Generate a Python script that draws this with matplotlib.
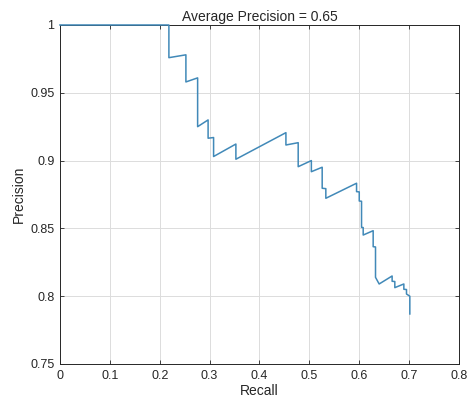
import numpy as np
import matplotlib.pyplot as plt

# precision-recall curve vertices
recall = [0.0, 0.2184, 0.2184, 0.2525, 0.2525, 0.276, 0.276, 0.297, 0.297,
          0.308, 0.308, 0.3527, 0.3527, 0.453, 0.453, 0.4776, 0.4776, 0.504,
          0.504, 0.5257, 0.5257, 0.533, 0.533, 0.5946, 0.5946, 0.6, 0.6,
          0.6046, 0.6046, 0.6079, 0.6079, 0.6279, 0.6279, 0.6326, 0.6326,
          0.6399, 0.6659, 0.6659, 0.6713, 0.6713, 0.6894, 0.6894, 0.6947,
          0.6947, 0.7014, 0.7014]
precision = [1.0, 1.0, 0.9759, 0.978, 0.958, 0.961, 0.925, 0.930, 0.9165,
             0.917, 0.903, 0.9122, 0.901, 0.9206, 0.9115, 0.9132, 0.8955, 0.900,
             0.8918, 0.8951, 0.8796, 0.8793, 0.8722, 0.8833, 0.8771, 0.8769, 0.8702,
             0.8700, 0.8508, 0.8506, 0.8451, 0.8483, 0.8365, 0.8363, 0.8139,
             0.8090, 0.8149, 0.8110, 0.8108, 0.8063, 0.8090, 0.8051, 0.8049,
             0.8016, 0.8000, 0.7869]
avg_precision = 0.65

plt.rcParams['font.family'] = ['Liberation Sans', 'DejaVu Sans']
txt = '#262626'

fig = plt.figure(figsize=(4.72, 4.07), dpi=100)
ax = fig.add_axes([0.127, 0.1057, 0.8455, 0.8329])

ax.plot(recall, precision, color='#4189b8', linewidth=1.1, clip_on=False, zorder=5)

ax.set_xlim(0, 0.8)
ax.set_ylim(0.75, 1)
ax.set_xticks(np.arange(0, 0.81, 0.1))
ax.set_yticks([0.75, 0.8, 0.85, 0.9, 0.95, 1])
ax.set_xticklabels(['0', '0.1', '0.2', '0.3', '0.4', '0.5', '0.6', '0.7', '0.8'])
ax.set_yticklabels(['0.75', '0.8', '0.85', '0.9', '0.95', '1'])
ax.grid(True, color='#dcdcdc', linewidth=0.7)
ax.set_axisbelow(True)
ax.tick_params(direction='in', top=True, right=True, length=3, width=0.6,
               labelsize=9, colors=txt, pad=4)
for s in ax.spines.values():
    s.set_color(txt)
    s.set_linewidth(0.7)

ax.set_title('Average Precision = %.2f' % avg_precision, fontsize=10, color=txt, pad=3)
ax.set_xlabel('Recall', fontsize=10, color=txt, labelpad=2)
ax.set_ylabel('Precision', fontsize=10, color=txt, labelpad=3)

fig.savefig('out.png', dpi=100)
